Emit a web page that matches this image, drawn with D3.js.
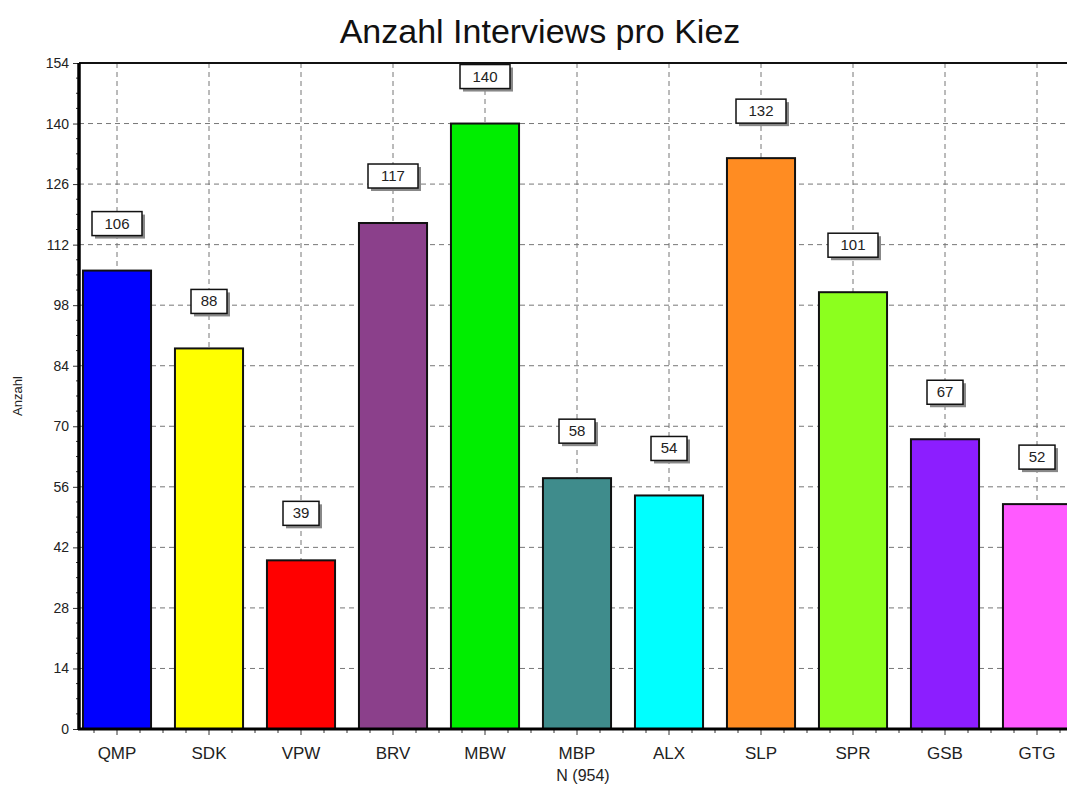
<!DOCTYPE html>
<html><head><meta charset="utf-8">
<script src="https://cdn.jsdelivr.net/npm/d3@7"></script>
<style>body{margin:0;background:#fff;} text{font-family:Arial,"Liberation Sans",sans-serif;}</style>
</head><body>
<svg id="c" width="1067" height="787"></svg>
<script>
const categories = ["QMP","SDK","VPW","BRV","MBW","MBP","ALX","SLP","SPR","GSB","GTG"];
const values = [106,88,39,117,140,58,54,132,101,67,52];
const colors = ["#0000FF","#FFFF00","#FF0000","#8B408B","#00EE00","#3F8C8C","#00FFFF","#FF8C22","#8CFF1E","#8C1EFF","#FF5AFF"];
const yTicks = [0,14,28,42,56,70,84,98,112,126,140,154];
const title = "Anzahl Interviews pro Kiez";
const yTitle = "Anzahl";
const xTitle = "N (954)";

(function(){
const svg = d3.select("#c");
const left = 79, plotTop = 63, bottom = 729;
const x = d3.scaleBand().domain(categories).range([71, 71 + 92*11]).paddingInner(0.26).paddingOuter(0.13);
const step = x.step();
const y = d3.scaleLinear().domain([0,154]).range([bottom, plotTop]);

// grid
const g = svg.append("g");
g.selectAll("line.h").data(yTicks.filter(t => t > 0 && t < 154)).join("line")
  .attr("x1", left).attr("x2", 1067).attr("y1", d => y(d)).attr("y2", d => y(d))
  .attr("stroke", "#777").attr("stroke-dasharray", "5,4").attr("stroke-width", 1);
g.selectAll("line.v").data(categories).join("line")
  .attr("x1", d => x(d) + x.bandwidth()/2).attr("x2", d => x(d) + x.bandwidth()/2)
  .attr("y1", plotTop).attr("y2", bottom)
  .attr("stroke", "#777").attr("stroke-dasharray", "5,4").attr("stroke-width", 1);

// bars
svg.selectAll("rect.bar").data(values).join("rect")
  .attr("x", (d,i) => x(categories[i]))
  .attr("y", d => y(d))
  .attr("width", x.bandwidth())
  .attr("height", d => bottom - y(d))
  .attr("fill", (d,i) => colors[i])
  .attr("stroke", "#111").attr("stroke-width", 2);

// value labels
const lab = svg.selectAll("g.lab").data(values).join("g")
  .attr("transform", (d,i) => `translate(${x(categories[i]) + x.bandwidth()/2},${y(d) - 35})`);
lab.each(function(d){
  const gg = d3.select(this);
  const w = String(d).length === 3 ? 50 : 36;
  gg.append("rect").attr("x", -w/2 + 3).attr("y", -24 + 3).attr("width", w).attr("height", 24).attr("fill", "#888");
  gg.append("rect").attr("x", -w/2).attr("y", -24).attr("width", w).attr("height", 24)
    .attr("fill", "#fff").attr("stroke", "#111").attr("stroke-width", 1.5);
  gg.append("text").attr("x", 0).attr("y", -7).attr("text-anchor", "middle")
    .attr("font-size", 15).attr("fill", "#222").text(d);
});

// axes
const yAxis = d3.axisLeft(y).tickValues(yTicks).tickSize(6).tickPadding(4);
const ya = svg.append("g").attr("transform", `translate(${left},0)`).call(yAxis);
ya.select(".domain").remove();
ya.selectAll("text").attr("font-size", 14).attr("fill", "#222").attr("font-family", "Arial, Liberation Sans, sans-serif");
ya.selectAll("line").attr("stroke", "#333");
const minorY = d3.range(0, 154, 3.5).filter(v => v % 14 !== 0);
svg.selectAll("line.my").data(minorY).join("line")
  .attr("x1", left).attr("x2", left - 3).attr("y1", d => y(d)).attr("y2", d => y(d)).attr("stroke", "#333");

const xAxis = d3.axisBottom(x).tickSize(6).tickPadding(12);
const xa = svg.append("g").attr("transform", `translate(0,${bottom})`).call(xAxis);
xa.select(".domain").remove();
xa.selectAll("text").attr("font-size", 17).attr("fill", "#222").attr("font-family", "Arial, Liberation Sans, sans-serif");
xa.selectAll("line").attr("stroke", "#333");
const minorX = [];
categories.forEach(c => { const cx = x(c) + x.bandwidth()/2; minorX.push(cx - step/4, cx + step/4, cx + step/2); });
svg.selectAll("line.mx").data(minorX.filter(v => v > left)).join("line")
  .attr("x1", d => d).attr("x2", d => d).attr("y1", bottom).attr("y2", bottom + 4).attr("stroke", "#333");

// frame
svg.append("line").attr("x1", left).attr("x2", 1067).attr("y1", plotTop).attr("y2", plotTop).attr("stroke", "#111").attr("stroke-width", 2);
svg.append("line").attr("x1", left).attr("x2", left).attr("y1", plotTop).attr("y2", bottom + 1).attr("stroke", "#000").attr("stroke-width", 3.5);
svg.append("line").attr("x1", left - 1).attr("x2", 1067).attr("y1", bottom).attr("y2", bottom).attr("stroke", "#000").attr("stroke-width", 3);

// titles
svg.append("text").attr("x", 540).attr("y", 43).attr("text-anchor", "middle").attr("font-size", 34).attr("fill", "#111").text(title);
svg.append("text").attr("transform", "translate(22,396) rotate(-90)").attr("text-anchor", "middle").attr("font-size", 13).attr("fill", "#222").text(yTitle);
svg.append("text").attr("x", 583).attr("y", 781).attr("text-anchor", "middle").attr("font-size", 16).attr("fill", "#222").text(xTitle);
})();
</script>
</body></html>
